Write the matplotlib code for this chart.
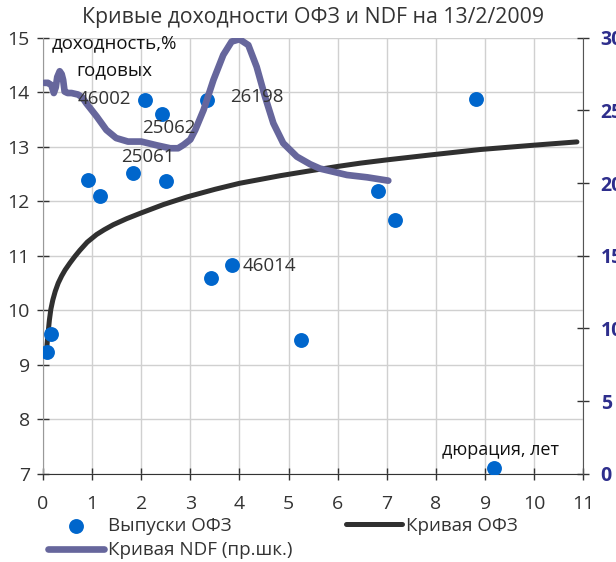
import matplotlib
matplotlib.use("Agg")
import matplotlib.pyplot as plt

plt.rcParams['font.family'] = ['Open Sans', 'DejaVu Sans']

# ---- data ----
ofz_dur = [0.08, 0.17, 0.92, 1.16, 1.83, 2.08, 2.42, 2.50, 3.33, 3.42, 3.84, 5.25, 6.83, 7.16, 8.82, 9.18]
ofz_yld = [9.24, 9.56, 12.40, 12.10, 12.52, 13.85, 13.60, 12.38, 13.85, 10.60, 10.83, 9.45, 12.18, 11.66, 13.87, 7.10]

curve_x = [0.08, 0.11, 0.13, 0.16, 0.20, 0.25, 0.31, 0.38, 0.45, 0.55, 0.65, 0.75, 0.90, 1.09, 1.25, 1.43,
           1.70, 1.98, 2.45, 2.93, 3.50, 4.00, 4.83, 5.44, 6.00, 6.46, 7.00, 7.88, 8.90, 10.00, 10.87]
curve_y = [9.35, 9.64, 9.82, 10.02, 10.19, 10.35, 10.50, 10.63, 10.74, 10.87, 10.99, 11.10, 11.25, 11.39, 11.48, 11.57,
           11.68, 11.78, 11.94, 12.08, 12.22, 12.33, 12.47, 12.56, 12.64, 12.70, 12.76, 12.85, 12.95, 13.03, 13.09]

ndf_x = [0.03, 0.10, 0.17, 0.22, 0.26, 0.29, 0.34, 0.38, 0.41, 0.44, 0.50, 0.58, 0.71, 0.80, 0.88, 1.09, 1.29,
         1.49, 1.73, 2.00, 2.32, 2.59, 2.75, 2.86, 3.00, 3.10, 3.27, 3.47, 3.67, 3.84, 4.00, 4.18, 4.35, 4.52,
         4.69, 4.89, 5.17, 5.44, 5.64, 6.19, 6.60, 7.03]
ndf_y = [26.9, 26.9, 26.75, 26.2, 26.6, 27.3, 27.7, 27.5, 27.1, 26.3, 26.2, 26.2, 26.1, 25.9, 25.5, 24.6, 23.66,
         23.1, 22.86, 22.86, 22.6, 22.4, 22.4, 22.63, 23.0, 23.66, 25.04, 27.1, 28.82, 29.74, 29.9, 29.5, 28.0, 25.95,
         24.12, 22.75, 21.82, 21.3, 21.0, 20.56, 20.4, 20.17]

labels = ["46002", "25062", "25061", "26198", "46014"]
label_x = [1.79, 2.02, 1.59, 3.81, 4.07]
label_y = [13.88, 13.35, 12.82, 13.91, 10.81]
label_ha = ["right", "left", "left", "left", "left"]

x_ticks = list(range(0, 12))
left_ticks = list(range(7, 16))
right_ticks = list(range(0, 31, 5))

title = "Кривые доходности ОФЗ и NDF на 13/2/2009"

# ---- figure ----
fig = plt.figure(figsize=(6.16, 5.62), dpi=100)
ax = fig.add_axes([43/616, 1-473.8/562, (583.3-43)/616, (473.8-37.8)/562])
ax2 = ax.twinx()

ax.set_xlim(0, 11)
ax.set_ylim(7, 15)
ax2.set_ylim(0, 30)
ax.set_xticks(x_ticks)
ax.set_yticks(left_ticks)
ax2.set_yticks(right_ticks)

ax.grid(True, color='#d0d0d0', lw=1)
ax.set_axisbelow(True)

ax.spines['top'].set_visible(False)
ax2.spines['top'].set_visible(False)
ax.spines['left'].set_color('#999999')
ax.spines['bottom'].set_color('#333333')
ax2.spines['right'].set_color('#555555')
ax2.spines['left'].set_visible(False)
ax2.spines['bottom'].set_visible(False)
ax.spines['right'].set_visible(False)

ax.tick_params(axis='both', direction='inout', length=9, width=1, color='#333333',
               labelsize=14, labelcolor='#333333')
ax.tick_params(axis='y', pad=5)
ax.tick_params(axis='x', pad=11)
ax2.tick_params(axis='y', direction='inout', length=9, width=1, color='#333333',
                labelsize=14, labelcolor='#2e2e8c', pad=8)
for t in ax2.get_yticklabels():
    t.set_fontweight('bold')

sc = ax.scatter(ofz_dur, ofz_yld, s=115, color='#0066cc', zorder=4, label='Выпуски ОФЗ', linewidths=0)
lc, = ax.plot(curve_x, curve_y, color='#303030', lw=3.6, zorder=3, label='Кривая ОФЗ',
              solid_capstyle='round', solid_joinstyle='round')
ln, = ax2.plot(ndf_x, ndf_y, color='#66669c', lw=4.8, zorder=3, label='Кривая NDF (пр.шк.)',
               solid_capstyle='round', solid_joinstyle='round')
ax.set_zorder(1)
ax2.set_zorder(2)
ax2.patch.set_visible(False)

for t, x, y, ha in zip(labels, label_x, label_y, label_ha):
    ax2.text(x, y, t, ha=ha, va='center', fontsize=13.5, color='#333333', zorder=6,
             transform=ax.transData)

ax2.text(1.45, 14.9, "доходность,%", ha='center', va='center', fontsize=13.4, color='#111111',
         transform=ax.transData, zorder=6)
ax2.text(1.45, 14.41, "годовых", ha='center', va='center', fontsize=13.4, color='#111111',
         transform=ax.transData, zorder=6)
ax2.text(8.13, 7.44, "дюрация, лет", ha='left', va='center', fontsize=13, color='#111111',
         transform=ax.transData, zorder=6)

fig.text(313/616, 1-18/562, title, ha='center', va='center', fontsize=15.3, color='#333333')

leg = fig.legend([sc, ln, lc], ['Выпуски ОФЗ', 'Кривая NDF (пр.шк.)', 'Кривая ОФЗ'], ncol=2,
                 loc='center left', bbox_to_anchor=(48/616, 1-538/562),
                 frameon=False, fontsize=13.5, handlelength=3.0, handletextpad=0.2, columnspacing=2.85,
                 labelspacing=0.35, borderpad=0, borderaxespad=0)
for t in leg.get_texts():
    t.set_color('#333333')

fig.savefig('out.png', dpi=100)
